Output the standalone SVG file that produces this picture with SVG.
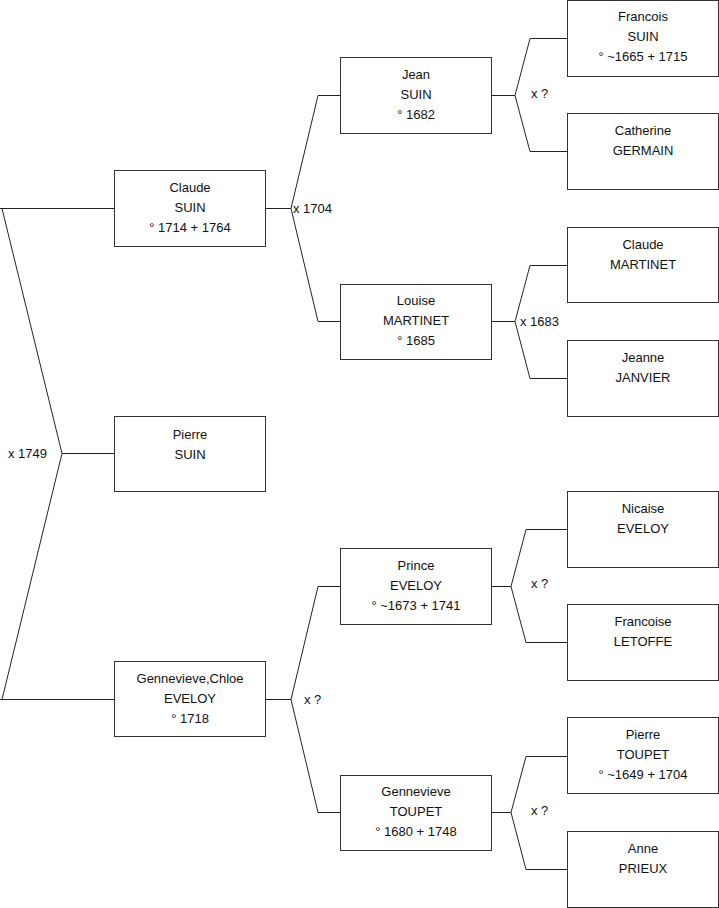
<svg xmlns="http://www.w3.org/2000/svg" width="719" height="908" viewBox="0 0 719 908">
<style>
.box{fill:#fff;stroke:#333;stroke-width:1}
.t{font-family:"Liberation Sans",Arial,sans-serif;font-size:13px;fill:#111;text-anchor:middle}
.l{font-family:"Liberation Sans",Arial,sans-serif;font-size:13px;fill:#111}
.c{fill:none;stroke:#222;stroke-width:1}
</style>
<rect width="719" height="908" fill="#fff"/>
<g id="connectors">
<path class="c" d="M0,208.5 H114 M2,208.5 L62,453.5 L2,699.5 M0,699.5 H114 M62,453.5 H114"/>
<path class="c" d="M265,208.5 H291 L318,95.5 H340 M291,208.5 L318,321.5 H340"/>
<path class="c" d="M265,699.5 H291 L318,586.5 H340 M291,699.5 L318,812.5 H340"/>
<path class="c" d="M491,95.5 H515 L530,38.5 H567 M515,95.5 L530,151.5 H567"/>
<path class="c" d="M491,321.5 H515 L530,265.5 H567 M515,321.5 L530,378.5 H567"/>
<path class="c" d="M491,586.5 H511 L526,529.5 H567 M511,586.5 L526,642.5 H567"/>
<path class="c" d="M491,812.5 H511 L526,756.5 H567 M511,812.5 L526,869.5 H567"/>
<text class="l" x="8" y="458">x 1749</text>
<text class="l" x="293" y="213">x 1704</text>
<text class="l" x="304" y="704">x ?</text>
<text class="l" x="531" y="98">x ?</text>
<text class="l" x="520" y="326">x 1683</text>
<text class="l" x="531" y="588">x ?</text>
<text class="l" x="531" y="815">x ?</text>
</g>
<g id="claude-suin"><rect class="box" x="114.5" y="170.5" width="151" height="76"/>
<text class="t" x="190" y="191.5">Claude</text><text class="t" x="190" y="211.5">SUIN</text><text class="t" x="190" y="231.5">° 1714 + 1764</text></g>
<g id="pierre-suin"><rect class="box" x="114.5" y="416.5" width="151" height="75"/>
<text class="t" x="190" y="438.5">Pierre</text><text class="t" x="190" y="458.5">SUIN</text></g>
<g id="gennevieve-eveloy"><rect class="box" x="114.5" y="661.5" width="151" height="75"/>
<text class="t" x="190" y="682.5">Gennevieve,Chloe</text><text class="t" x="190" y="702.5">EVELOY</text><text class="t" x="190" y="722.5">° 1718</text></g>
<g id="jean-suin"><rect class="box" x="340.5" y="57.5" width="151" height="76"/>
<text class="t" x="416" y="78.5">Jean</text><text class="t" x="416" y="98.5">SUIN</text><text class="t" x="416" y="118.5">° 1682</text></g>
<g id="louise-martinet"><rect class="box" x="340.5" y="284.5" width="151" height="75"/>
<text class="t" x="416" y="304.5">Louise</text><text class="t" x="416" y="324.5">MARTINET</text><text class="t" x="416" y="344.5">° 1685</text></g>
<g id="prince-eveloy"><rect class="box" x="340.5" y="548.5" width="151" height="76"/>
<text class="t" x="416" y="569.5">Prince</text><text class="t" x="416" y="589.5">EVELOY</text><text class="t" x="416" y="609.5">° ~1673 + 1741</text></g>
<g id="gennevieve-toupet"><rect class="box" x="340.5" y="775.5" width="151" height="75"/>
<text class="t" x="416" y="795.5">Gennevieve</text><text class="t" x="416" y="815.5">TOUPET</text><text class="t" x="416" y="835.5">° 1680 + 1748</text></g>
<g id="francois-suin"><rect class="box" x="567.5" y="0.5" width="151" height="76"/>
<text class="t" x="643" y="20.5">Francois</text><text class="t" x="643" y="40.5">SUIN</text><text class="t" x="643" y="60.5">° ~1665 + 1715</text></g>
<g id="catherine-germain"><rect class="box" x="567.5" y="113.5" width="151" height="76"/>
<text class="t" x="643" y="134.5">Catherine</text><text class="t" x="643" y="154.5">GERMAIN</text></g>
<g id="claude-martinet"><rect class="box" x="567.5" y="227.5" width="151" height="75"/>
<text class="t" x="643" y="248.5">Claude</text><text class="t" x="643" y="268.5">MARTINET</text></g>
<g id="jeanne-janvier"><rect class="box" x="567.5" y="340.5" width="151" height="76"/>
<text class="t" x="643" y="361.5">Jeanne</text><text class="t" x="643" y="381.5">JANVIER</text></g>
<g id="nicaise-eveloy"><rect class="box" x="567.5" y="491.5" width="151" height="76"/>
<text class="t" x="643" y="512.5">Nicaise</text><text class="t" x="643" y="532.5">EVELOY</text></g>
<g id="francoise-letoffe"><rect class="box" x="567.5" y="604.5" width="151" height="76"/>
<text class="t" x="643" y="625.5">Francoise</text><text class="t" x="643" y="645.5">LETOFFE</text></g>
<g id="pierre-toupet"><rect class="box" x="567.5" y="717.5" width="151" height="76"/>
<text class="t" x="643" y="738.5">Pierre</text><text class="t" x="643" y="758.5">TOUPET</text><text class="t" x="643" y="778.5">° ~1649 + 1704</text></g>
<g id="anne-prieux"><rect class="box" x="567.5" y="831.5" width="151" height="76"/>
<text class="t" x="643" y="852.5">Anne</text><text class="t" x="643" y="872.5">PRIEUX</text></g>
</svg>
